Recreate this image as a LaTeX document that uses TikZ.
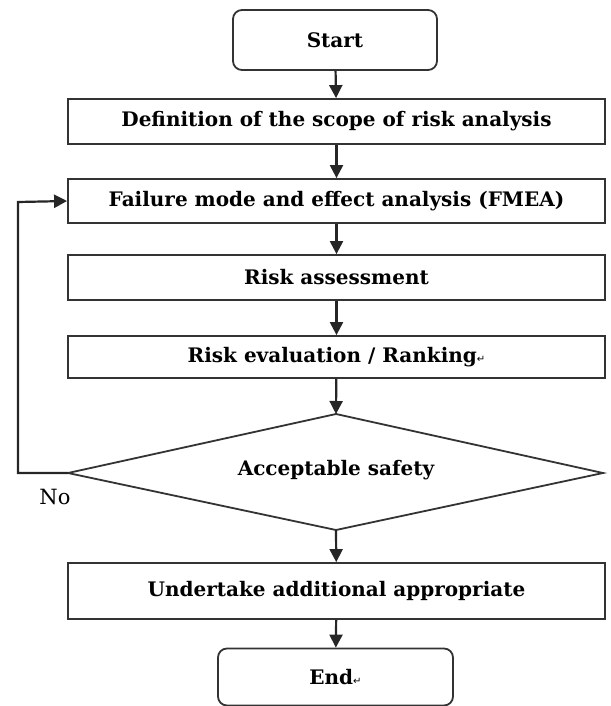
\documentclass[tikz,border=0pt]{standalone}
\usepackage{fontspec}
\setmainfont{DejaVu Serif}
\newfontfamily\symfont{DejaVu Sans}
\usetikzlibrary{shapes.geometric,arrows.meta}
\begin{document}
\begin{tikzpicture}[x=1pt,y=-1pt,
  font=\bfseries\fontsize{20}{24}\selectfont,
  base/.style={draw=black!80,line width=1.8pt,inner sep=0pt,align=center},
  rbox/.style={base,rectangle,minimum width=537pt},
  term/.style={base,rectangle,rounded corners=9pt},
  outline/.style={draw=black!80,line width=1.8pt,line join=miter},
  arr/.style={draw=black!85,line width=2.2pt,line join=miter,-{Triangle[length=13pt,width=13pt]}}]
\useasboundingbox (0,0) rectangle (610,706);
\node[term,minimum width=204pt,minimum height=60pt] (start) at (335,40) {Start};
\node[rbox,minimum height=45pt] (def) at (336.5,121.5) {Definition of the scope of risk analysis};
\node[rbox,minimum height=44pt] (fmea) at (336.5,201) {Failure mode and effect analysis (FMEA)};
\node[rbox,minimum height=45pt] (assess) at (336.5,277.5) {Risk assessment};
\node[rbox,minimum height=42pt] (eval) at (336.5,357) {Risk evaluation / Ranking{\mdseries\symfont\fontsize{10}{10}\selectfont ↵}};
\coordinate (dtop) at (336,414);
\coordinate (dleft) at (68,473);
\coordinate (dright) at (603,473);
\coordinate (dbot) at (336,530);
\draw[outline] (dtop) -- (dright) -- (dbot) -- (dleft) -- cycle;
\node (dia) at (336,470) {Acceptable safety};
\node[rbox,minimum height=56pt] (und) at (336.5,591) {Undertake additional appropriate};
\node[term,minimum width=235pt,minimum height=57pt] (end) at (335.5,677) {End{\mdseries\symfont\fontsize{10}{10}\selectfont ↵}};
\node[font=\fontsize{21}{24}\selectfont,anchor=center] (no) at (55,497) {No};
\coordinate (lb) at (18,473);
\coordinate (lt) at (18,202);
\draw[arr] (start) -- (def);
\draw[arr] (def) -- (fmea);
\draw[arr] (fmea) -- (assess);
\draw[arr] (assess) -- (eval);
\draw[arr] (eval) -- (dtop);
\draw[arr] (dbot) -- (und);
\draw[arr] (und) -- (end);
\draw[arr] (dleft) -- (lb) -- (lt) -- (fmea.west);
\end{tikzpicture}
\end{document}
